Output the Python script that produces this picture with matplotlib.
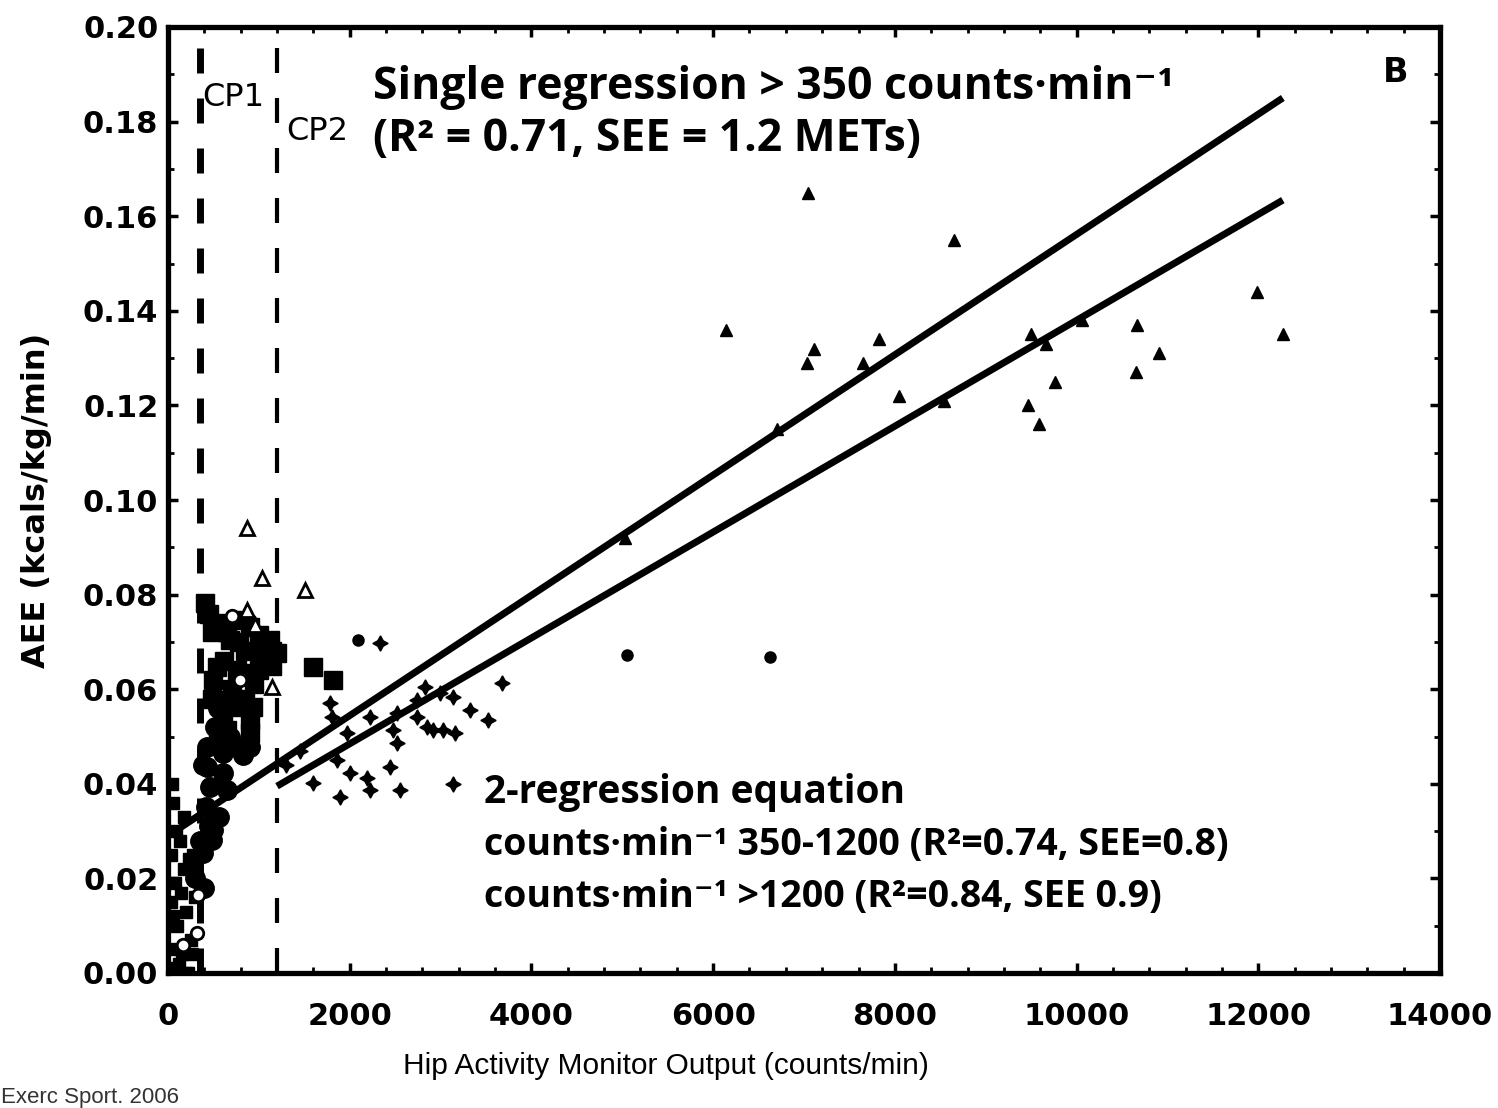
import matplotlib
matplotlib.use("Agg")
import matplotlib.pyplot as plt
from matplotlib.ticker import MultipleLocator

# regression lines (counts/min, kcal/kg/min)
single_x = [0, 12270]
single_y = [0.029, 0.185]
two_x = [1200, 12270]
two_y = [0.0395, 0.1634]

# cut points
cp_x = [350, 1200]
cp_names = ["CP1", "CP2"]

# filled triangles (vigorous)
tri_x = [7044, 8651, 11985, 6141, 10665, 12272, 7825, 7110, 7033, 7649, 9498,
         9663, 10907, 10654, 9762, 8045, 8541, 9465, 9586, 6703, 10060, 5030]
tri_y = [0.165, 0.155, 0.144, 0.136, 0.137, 0.135, 0.134, 0.132, 0.129, 0.129, 0.135,
         0.133, 0.131, 0.127, 0.125, 0.122, 0.121, 0.120, 0.116, 0.115, 0.138, 0.092]

# small four point stars (moderate)
st_x = [2333, 3676, 3324, 3522, 2917, 3027, 3159, 2829, 2994, 3137, 2740, 2520, 2476,
        2740, 2850, 2520, 2223, 1970, 1860, 2003, 2190, 2443, 1596, 1783, 1805,
        1893, 2223, 2553, 3137, 1300, 1450]
st_y = [0.0698, 0.0613, 0.0556, 0.0535, 0.0514, 0.0514, 0.0507, 0.0605, 0.0592, 0.0584,
        0.0577, 0.055, 0.0514, 0.0541, 0.052, 0.0486, 0.0541, 0.0507, 0.045, 0.0423,
        0.0412, 0.0436, 0.0402, 0.057, 0.0541, 0.0372, 0.0387, 0.0387, 0.040, 0.044, 0.047]

# small filled dots
dot_x = [2091, 5050, 6625]
dot_y = [0.0705, 0.0672, 0.0668]

# filled squares (light-moderate)
sq_x = [407, 572, 759, 902, 1123, 682, 1013, 1200, 539, 759, 902, 1090, 1596, 1816,
        572, 759, 935, 605, 902, 649, 902, 480, 1000, 1150,
        450, 650, 850, 1050, 500, 700, 850, 1000, 1150, 550, 750, 480, 620, 780, 950]
sq_y = [0.0782, 0.074, 0.0746, 0.0732, 0.0704, 0.0704, 0.069, 0.0676, 0.0647, 0.0641,
        0.0634, 0.0655, 0.0647, 0.062, 0.0577, 0.0562, 0.0562, 0.0541, 0.0535, 0.0514,
        0.0507, 0.072, 0.0715, 0.068,
        0.076, 0.072, 0.068, 0.066, 0.062, 0.060, 0.058, 0.064, 0.065, 0.050, 0.048,
        0.058, 0.066, 0.070, 0.061]

# filled circles (light)
ci_x = [429, 605, 429, 605, 462, 649, 902, 484, 495, 385, 275, 550, 700,
        420, 560, 450, 380, 520, 680, 820, 350, 300, 400]
ci_y = [0.0478, 0.0465, 0.0436, 0.0423, 0.0393, 0.0387, 0.0478, 0.0281, 0.0302,
        0.0254, 0.0224, 0.056, 0.058,
        0.035, 0.033, 0.031, 0.044, 0.052, 0.050, 0.046, 0.028, 0.020, 0.018]

# sedentary points near the y axis
low_x = [50, 150, 250, 100, 200, 300, 80, 180, 280, 120, 60, 220,
         30, 30, 30, 130, 230, 90, 180, 60, 260, 200, 140, 40]
low_y = [0.001, 0.004, 0.007, 0.010, 0.013, 0.016, 0.019, 0.022, 0.025, 0.002, 0.012, 0.0,
         0.005, 0.015, 0.025, 0.028, 0.024, 0.030, 0.033, 0.036, 0.004, 0.0, 0.017, 0.040]

# open markers
oc_x = [330, 319, 792, 700, 160]
oc_y = [0.0165, 0.0085, 0.062, 0.0755, 0.006]
ot_x = [870, 1035, 1508, 1145, 870, 960]
ot_y = [0.094, 0.0835, 0.081, 0.0605, 0.0767, 0.0735]

fig = plt.figure(figsize=(14.98, 11.08), dpi=100)
ax = fig.add_axes([168 / 1498, 1 - 973 / 1108, 1272 / 1498, 946 / 1108])

ax.plot(low_x, low_y, "s", color="black", ms=9, zorder=3)
ax.plot(ci_x, ci_y, "o", color="black", ms=14, zorder=3)
ax.plot(sq_x, sq_y, "s", color="black", ms=13, zorder=3)
ax.plot(st_x, st_y, marker=(4, 1, 0), ls="none", color="black", ms=11, zorder=3)
ax.plot(dot_x, dot_y, "o", color="black", ms=8, zorder=3)
ax.plot(tri_x, tri_y, "^", color="black", ms=9, zorder=3)
ax.plot(oc_x, oc_y, "o", mfc="white", mec="black", mew=2, ms=9, zorder=4)
ax.plot(ot_x, ot_y, "^", mfc="white", mec="black", mew=2, ms=10, zorder=4)

ax.plot(single_x, single_y, color="black", lw=5, solid_capstyle="butt", zorder=5)
ax.plot(two_x, two_y, color="black", lw=5, solid_capstyle="butt", zorder=5)

ax.axvline(cp_x[0], color="black", lw=5, ls=(0, (3.6, 3.6)), zorder=2)
ax.axvline(cp_x[1], color="black", lw=3, ls=(0, (6, 6)), zorder=2)

ax.set_xlim(0, 14000)
ax.set_ylim(0, 0.20)
ax.xaxis.set_major_locator(MultipleLocator(2000))
ax.xaxis.set_minor_locator(MultipleLocator(400))
ax.yaxis.set_major_locator(MultipleLocator(0.02))
ax.yaxis.set_minor_locator(MultipleLocator(0.01))
ax.yaxis.set_major_formatter(matplotlib.ticker.FormatStrFormatter("%.2f"))

for s in ax.spines.values():
    s.set_linewidth(3.8)
ax.tick_params(which="major", direction="in", length=7, width=2.5,
               top=True, right=True)
ax.tick_params(which="minor", direction="in", length=4, width=2,
               top=True, right=True)
ax.tick_params(axis="x", pad=21)
ax.tick_params(axis="y", pad=7)
for lab in ax.get_xticklabels() + ax.get_yticklabels():
    lab.set_fontfamily("DejaVu Sans")
    lab.set_fontweight("bold")
    lab.set_fontsize(22)

ax.set_xlabel("Hip Activity Monitor Output (counts/min)",
              family="Liberation Sans", fontsize=21.5)
ax.xaxis.set_label_coords((666 - 168) / 1272, -(1052 - 973) / 946)
ax.set_ylabel("AEE (kcals/kg/min)", family="DejaVu Sans",
              fontweight="bold", fontsize=23)
ax.yaxis.set_label_coords(-(168 - 52) / 1272, 0.5)

# cut point labels and panel letter
ax.text(cp_x[0] + 30, 0.185, cp_names[0], fontsize=23, family="DejaVu Sans",
        va="center", ha="left")
ax.text(cp_x[1] + 100, 0.178, cp_names[1], fontsize=23, family="DejaVu Sans",
        va="center", ha="left")
fig.text(1396 / 1498, 1 - 73 / 1108, "B", fontsize=24, fontweight="bold",
         family="DejaVu Sans", ha="center", va="center")

big = dict(fontweight="bold", family=["Open Sans", "DejaVu Sans"],
           ha="left", va="baseline")
fig.text(373 / 1498, 1 - 99 / 1108,
         "Single regression > 350 counts\u00b7min\u207b\u00b9", fontsize=32, **big)
fig.text(373 / 1498, 1 - 151 / 1108, "(R\u00b2 = 0.71, SEE = 1.2 METs)",
         fontsize=32, **big)
fig.text(484 / 1498, 1 - 803 / 1108, "2-regression equation", fontsize=28, **big)
fig.text(484 / 1498, 1 - 855 / 1108,
         "counts\u00b7min\u207b\u00b9 350-1200 (R\u00b2=0.74, SEE=0.8)", fontsize=27, **big)
fig.text(484 / 1498, 1 - 907 / 1108,
         "counts\u00b7min\u207b\u00b9 >1200 (R\u00b2=0.84, SEE 0.9)", fontsize=27, **big)

fig.text(0.001, 1 - 1103 / 1108, "Exerc Sport. 2006", fontsize=16,
         family="Liberation Sans", color="#333333", ha="left", va="baseline")

fig.savefig("out.png", dpi=100)
